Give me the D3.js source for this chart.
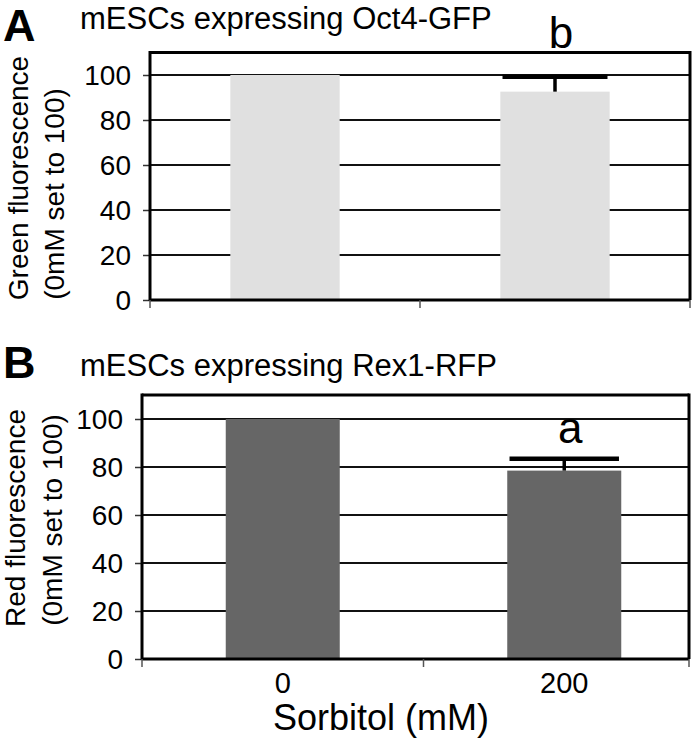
<!DOCTYPE html>
<html><head><meta charset="utf-8">
<script src="https://cdn.jsdelivr.net/npm/d3@7"></script>
<style>body{margin:0;background:#fff}svg{display:block}text{font-family:Arial,"Liberation Sans",sans-serif;fill:#000}</style>
</head><body>
<script>
const categories = ["0", "200"];
const greenValues = [100, 92.6];
const greenErrors = [0, 6.6];
const greenLetters = ["", "b"];
const redValues = [100, 78.5];
const redErrors = [0, 4.9];
const redLetters = ["", "a"];
const yTicks = [0, 20, 40, 60, 80, 100];

const svg = d3.select("body").append("svg").attr("width", 698).attr("height", 741);

function panel(cfg){
  const g = svg.append("g");
  const x = d3.scalePoint().domain(categories).range(cfg.xRange).padding(0.5);
  const step = x.step();
  const bw = step*0.405;
  const y = d3.scaleLinear().domain([0,110]).range([cfg.yBottom, cfg.yTop]);
  const L = cfg.xRange[0], R = cfg.frameRight;
  g.selectAll(".grid").data(yTicks.filter(d=>d>0)).join("line")
    .attr("x1", L).attr("x2", R).attr("y1", d=>y(d)).attr("y2", d=>y(d))
    .attr("stroke","#111").attr("stroke-width",2);
  g.selectAll(".bar").data(cfg.values).join("rect")
    .attr("x",(d,i)=>x(categories[i])-bw/2).attr("width",bw)
    .attr("y",d=>y(d)).attr("height",d=>y(0)-y(d)).attr("fill",cfg.color);
  cfg.values.forEach((v,i)=>{
    const e = cfg.errors[i]; if(!e) return;
    const cx = x(categories[i]);
    g.append("line").attr("x1",cx).attr("x2",cx).attr("y1",y(v)).attr("y2",y(v+e)).attr("stroke","#000").attr("stroke-width",3.5);
    g.append("line").attr("x1",cx-bw*0.48).attr("x2",cx+bw*0.48).attr("y1",y(v+e)).attr("y2",y(v+e)).attr("stroke","#000").attr("stroke-width",4.5);
    g.append("text").attr("x",cx+6).attr("y",y(v+e)-cfg.letterGap).attr("text-anchor","middle")
      .style("font-size","44px").text(cfg.letters[i]);
  });
  g.append("line").attr("x1",L).attr("x2",R).attr("y1",y(110)).attr("y2",y(110)).attr("stroke","#000").attr("stroke-width",3);
  g.append("line").attr("x1",R).attr("x2",R).attr("y1",y(110)-1.5).attr("y2",y(0)).attr("stroke","#000").attr("stroke-width",3);
  const ya = d3.axisLeft(y).tickValues(yTicks).tickSize(7).tickPadding(12);
  const yg = g.append("g").attr("transform",`translate(${L},0)`).call(ya);
  yg.select(".domain").remove();
  yg.selectAll(".tick line").attr("stroke","#333").attr("stroke-width",1.5);
  yg.selectAll(".tick text").style("font-size","28px").attr("dy","0.35em");
  g.append("line").attr("x1",L).attr("x2",L).attr("y1",y(110)-1.5).attr("y2",y(0)+1).attr("stroke","#000").attr("stroke-width",3);
  g.append("line").attr("x1",L).attr("x2",R).attr("y1",y(0)).attr("y2",y(0)).attr("stroke","#000").attr("stroke-width",3);
  const midTick = (x(categories[0])+x(categories[1]))/2;
  g.selectAll(".xt").data([L, midTick, R]).join("line")
    .attr("x1",d=>d).attr("x2",d=>d).attr("y1",y(0)).attr("y2",y(0)+8)
    .attr("stroke","#555").attr("stroke-width",1.5);
  if(cfg.showX){
    g.selectAll(".xl").data(categories).join("text")
      .attr("x",d=>x(d)).attr("y",cfg.yBottom+34).attr("text-anchor","middle")
      .style("font-size","29px").text(d=>d);
  }
  g.append("text").attr("x",3).attr("y",cfg.letterY).style("font-size","45px").style("font-weight","bold").text(cfg.panelLetter);
  g.append("text").attr("x",80).attr("y",cfg.titleY).style("font-size","31px").text(cfg.title);
  cfg.yTitle.forEach((t,i)=>{
    g.append("text").attr("transform",`translate(${cfg.yTitleX[i]},${cfg.yTitleC[i]}) rotate(-90)`)
      .attr("text-anchor","middle").style("font-size","28px").text(t);
  });
}

panel({xRange:[150,690], frameRight:690, yBottom:300, yTop:52.5, values:greenValues, errors:greenErrors,
  letters:greenLetters, letterGap:29, color:"#e0e0e0", showX:false, panelLetter:"A", letterY:41,
  title:"mESCs expressing Oct4-GFP", titleY:29,
  yTitle:["Green fluorescence","(0mM set to 100)"], yTitleX:[28,64], yTitleC:[178,194]});

panel({xRange:[142,705], frameRight:689, yBottom:659, yTop:395, values:redValues, errors:redErrors,
  letters:redLetters, letterGap:16, color:"#666666", showX:true, panelLetter:"B", letterY:378,
  title:"mESCs expressing Rex1-RFP", titleY:376,
  yTitle:["Red fluorescence","(0mM set to 100)"], yTitleX:[25,62], yTitleC:[518,520]});

svg.append("text").attr("x",381).attr("y",730).attr("text-anchor","middle").style("font-size","36px").text("Sorbitol (mM)");
</script>
</body></html>
